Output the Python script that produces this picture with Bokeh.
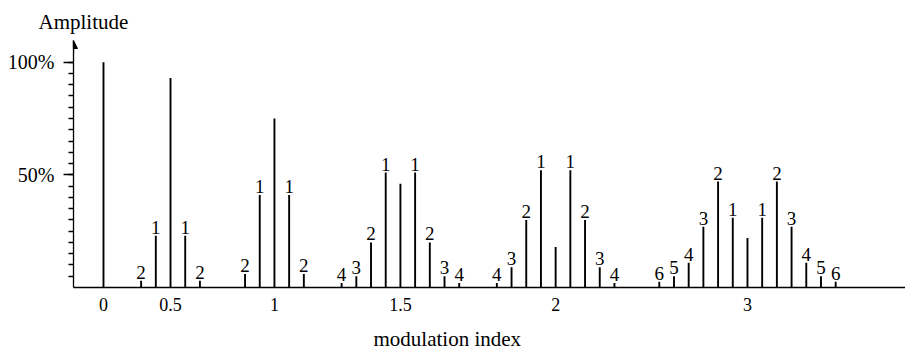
from bokeh.plotting import figure
from bokeh.models import FixedTicker, Range1d, Arrow, NormalHead, ColumnDataSource, Title
from bokeh.core.properties import value
from bokeh.embed import file_html
from bokeh.resources import INLINE

# ---- data (amplitudes in % of unmodulated carrier) ----
beta_labels = ["0", "0.5", "1", "1.5", "2", "3"]
carrier_amp = [100, 93, 75, 46, 18, 22]
# sideband amplitudes, order 1, 2, 3, ...
sb_0 = []
sb_05 = [23, 3]
sb_1 = [41, 6]
sb_15 = [51, 20, 5, 2]
sb_2 = [52, 30, 9, 2]
sb_3 = [31, 47, 27, 11, 5, 2.5]
sidebands = [sb_0, sb_05, sb_1, sb_15, sb_2, sb_3]

# ---- layout: group centre positions along the x axis (in sideband-spacing units) ----
group_pos = [2.04, 6.6, 13.67, 22.24, 32.8, 45.85]

FONT = "Liberation Serif"
TFONT = "'Liberation Serif', serif"

xs, ys, lx, ly, lt = [], [], [], [], []
for c, amp, sb in zip(group_pos, carrier_amp, sidebands):
    xs.append(c); ys.append(amp)
    for n, a in enumerate(sb, start=1):
        for side in (-1, 1):
            xs.append(c + side * n); ys.append(a)
            lx.append(c + side * n); ly.append(a); lt.append(str(n))

lines = ColumnDataSource(dict(x=xs, y0=[0] * len(xs), y1=ys))
labels = ColumnDataSource(dict(x=lx, y=ly, t=lt))

p = figure(width=905, height=361, output_backend="svg", toolbar_location=None,
           x_range=Range1d(0, 56.6), y_range=Range1d(0, 109.6),
           min_border_left=73, min_border_right=0, min_border_top=40, min_border_bottom=70)
p.outline_line_color = None
p.xgrid.visible = False
p.ygrid.visible = False
p.background_fill_color = "white"
p.border_fill_color = "white"

p.segment(x0="x", y0="y0", x1="x", y1="y1", source=lines, line_color="black", line_width=1.9)
p.text(x="x", y="y", text="t", source=labels, text_align="center", text_baseline="bottom",
       y_offset=-2, text_font=value(FONT), text_font_size="19px", text_color="black")

# y axis
ya = p.yaxis[0]
ya.ticker = FixedTicker(ticks=[50, 100], minor_ticks=list(range(5, 105, 5)))
ya.major_label_overrides = {50: "50%", 100: "100%"}
ya.major_tick_out = 10
ya.major_tick_in = 0
ya.minor_tick_out = 5
ya.minor_tick_in = 0
ya.major_label_standoff = 9
ya.axis_line_width = 1.3
ya.major_tick_line_width = 1.3
ya.minor_tick_line_width = 1.3
ya.major_label_text_font = FONT
ya.major_label_text_font_size = "20px"
ya.major_label_text_color = "black"

# x axis
xa = p.xaxis[0]
xa.ticker = FixedTicker(ticks=group_pos, minor_ticks=[])
xa.major_label_overrides = {pos: lab for pos, lab in zip(group_pos, beta_labels)}
xa.major_tick_out = 0
xa.major_tick_in = 0
xa.minor_tick_out = 0
xa.minor_tick_in = 0
xa.major_label_standoff = 10
xa.axis_line_width = 1.3
xa.major_label_text_font = FONT
xa.major_label_text_font_size = "18px"
xa.major_label_text_color = "black"

# arrow head on the y axis
p.add_layout(Arrow(end=NormalHead(size=8, fill_color="black", line_color="black"),
                   x_start=0, y_start=104, x_end=0, y_end=109.6, line_width=1.3))

p.add_layout(Title(text="Amplitude", align="left", offset=-35, standoff=14,
                   text_font=TFONT, text_font_size="21px", text_font_style="normal",
                   text_color="black"), "above")
p.add_layout(Title(text="modulation index", align="left", offset=300, standoff=22,
                   text_font=TFONT, text_font_size="21px", text_font_style="normal",
                   text_color="black"), "below")

open("out.html", "w").write(file_html(p, INLINE))
